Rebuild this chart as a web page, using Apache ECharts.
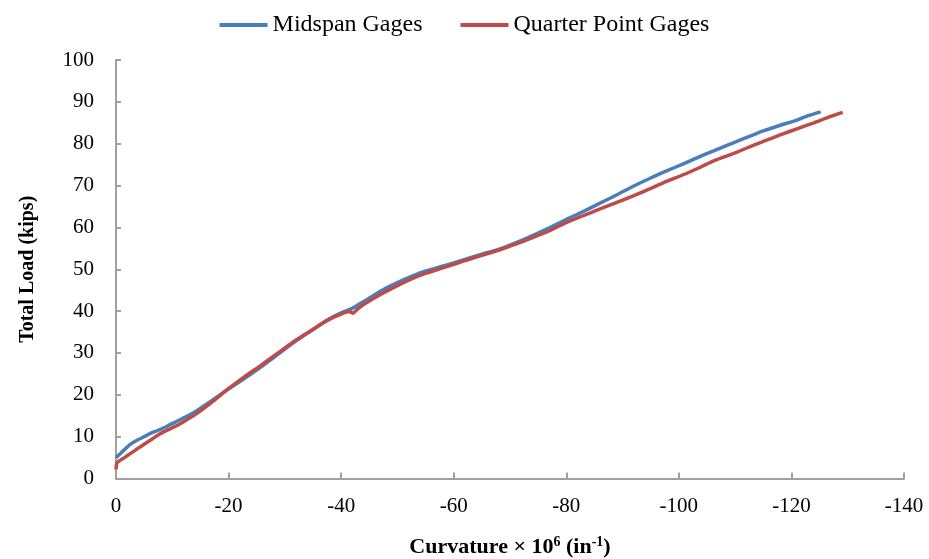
<!DOCTYPE html>
<html>
<head>
<meta charset="utf-8">
<script src="https://cdn.jsdelivr.net/npm/echarts@6/dist/echarts.min.js"></script>
<style>
  html, body { margin: 0; padding: 0; background: #fff; }
  #chart { width: 929px; height: 559px; }
</style>
</head>
<body>
<div id="chart"></div>
<script>
// Curvature (×10^6, 1/in) and total load (kips) readings
const midspanCurvature = [0, -0.5, -1.5, -2.6, -3.8, -5.0, -6.5, -8.0, -9.5, -11, -12.5, -14, -17, -19.9, -22.8, -25.8, -28.8, -31.8, -34.8, -37.7, -40, -41.9, -44, -47.3, -50, -52.5, -55, -58.5, -62.1, -65, -68.1, -71, -74.1, -77, -80, -83, -86, -89, -92, -95, -97.3, -101, -104, -106.2, -110, -113, -115.1, -118, -121.1, -123, -125.2];
const midspanLoad      = [5.0, 5.6, 6.9, 8.2, 9.2, 10.0, 11.0, 11.8, 12.8, 13.8, 14.8, 15.9, 18.6, 21.3, 23.9, 26.7, 29.7, 32.7, 35.4, 38.0, 39.6, 40.6, 42.3, 45.0, 46.8, 48.3, 49.6, 50.9, 52.4, 53.6, 54.8, 56.3, 58.1, 59.9, 61.9, 63.8, 65.8, 67.8, 69.9, 71.8, 73.2, 75.3, 77.1, 78.3, 80.4, 82.0, 83.1, 84.4, 85.7, 86.7, 87.6];

const quarterCurvature = [0, -0.2, -1.5, -2.6, -3.8, -5.0, -6.5, -8.0, -9.5, -11, -12.5, -14, -17, -19.9, -22.8, -25.8, -28.8, -31.8, -34.8, -37.7, -40, -41.5, -42.1, -43, -44, -47.3, -50, -52.5, -55, -58.5, -62.1, -65, -68.1, -71, -74.1, -77, -79.4, -83, -86, -88.3, -92, -95, -97.3, -101, -104, -106.2, -110, -113, -115.1, -118, -121.1, -124, -126.5, -129.1];
const quarterLoad      = [2.2, 3.8, 5.0, 6.0, 7.1, 8.2, 9.5, 10.8, 11.8, 12.8, 14.0, 15.2, 18.2, 21.4, 24.3, 27.1, 30.0, 32.9, 35.5, 37.9, 39.3, 39.9, 39.5, 40.6, 41.6, 44.2, 46.1, 47.7, 49.0, 50.5, 52.1, 53.3, 54.6, 56.0, 57.6, 59.2, 60.8, 62.8, 64.4, 65.6, 67.6, 69.3, 70.7, 72.7, 74.5, 75.9, 77.8, 79.5, 80.6, 82.1, 83.6, 85.0, 86.3, 87.5];

const seriesNames = ['Midspan Gages', 'Quarter Point Gages'];

const pairs = (xs, ys) => xs.map((x, i) => [x, ys[i]]);

const serif = '"Liberation Serif", "Times New Roman", serif';
const axisGray = '#a0a0a0';

const chart = echarts.init(document.getElementById('chart'), null, { renderer: 'canvas' });

chart.setOption({
  animation: false,
  backgroundColor: '#ffffff',
  color: ['#4A7EBB', '#BE4B48'],
  legend: {
    top: 8,
    left: 'center',
    icon: 'rect',
    itemWidth: 48,
    itemHeight: 4,
    itemGap: 38,
    textStyle: { fontFamily: serif, fontSize: 24, color: '#000' },
    data: seriesNames
  },
  grid: { left: 116, right: 25, top: 60, bottom: 80.5, containLabel: false, outerBoundsMode: 'none' },
  xAxis: {
    type: 'value',
    min: -140,
    max: 0,
    interval: 20,
    inverse: true,
    name: 'Curvature × 10{sup|6} (in{sup|-1})',
    nameLocation: 'middle',
    nameGap: 57,
    nameTextStyle: {
      fontFamily: serif, fontSize: 22, fontWeight: 'bold', color: '#000', lineHeight: 24,
      rich: {
        sup: { fontFamily: serif, fontSize: 14, fontWeight: 'bold', color: '#000', verticalAlign: 'top', lineHeight: 24 }
      }
    },
    axisLine: { onZero: false, lineStyle: { color: axisGray, width: 2 } },
    axisTick: { inside: true, length: 6, lineStyle: { color: axisGray, width: 2 } },
    axisLabel: { fontFamily: serif, fontSize: 21, color: '#000', margin: 17 },
    splitLine: { show: false }
  },
  yAxis: {
    type: 'value',
    min: 0,
    max: 100,
    interval: 10,
    name: 'Total Load (kips)',
    nameLocation: 'middle',
    nameGap: 78,
    nameRotate: 90,
    nameTextStyle: { fontFamily: serif, fontSize: 20, fontWeight: 'bold', color: '#000' },
    axisLine: { show: true, onZero: false, lineStyle: { color: axisGray, width: 2 } },
    axisTick: { show: true, inside: true, length: 5, lineStyle: { color: axisGray, width: 2 } },
    axisLabel: { fontFamily: serif, fontSize: 21, color: '#000', margin: 22 },
    splitLine: { show: false }
  },
  series: [
    {
      name: seriesNames[0],
      type: 'line',
      showSymbol: false,
      smooth: 0.2,
      lineStyle: { width: 3.5 },
      data: pairs(midspanCurvature, midspanLoad)
    },
    {
      name: seriesNames[1],
      type: 'line',
      showSymbol: false,
      smooth: 0.2,
      lineStyle: { width: 3.5 },
      data: pairs(quarterCurvature, quarterLoad)
    }
  ]
});
</script>
</body>
</html>
